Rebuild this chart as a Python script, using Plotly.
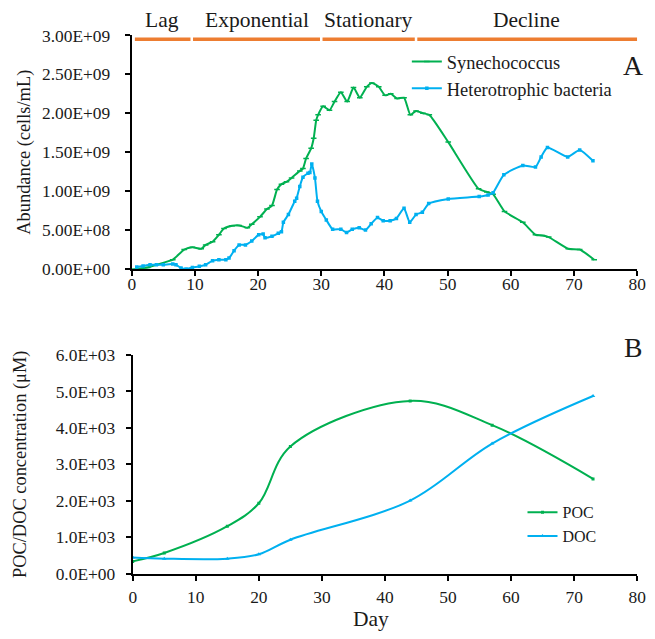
import plotly.graph_objects as go

# ---------------- Data ----------------
# Panel A: abundance (cells/mL)
syn_day = [0.5, 2.5, 3.9, 6.5, 8.3, 9.6, 11, 11.7, 12.8, 13.8, 14.6, 15.9, 17, 18.3, 19,
           20.3, 21.4, 22.2, 23, 23.7, 24.5, 25.3, 26.6, 27.1, 27.6, 28.4, 28.8, 29.2, 29.5,
           30.3, 31.3, 32.1, 33.1, 34.1, 35.1, 36.1, 37.2, 38, 39.1, 40.1, 41, 42, 43.1, 44.1,
           45, 46.1, 47.1, 50.1, 54.9, 56.2, 57.2, 59, 61.9, 63.9, 65, 66, 69.1, 70.9, 73.2]
syn_e9 = [0.0, 0.02, 0.055, 0.12, 0.25, 0.28, 0.26, 0.31, 0.35, 0.44, 0.52, 0.555, 0.56, 0.53,
          0.575, 0.67, 0.77, 0.815, 1.02, 1.09, 1.12, 1.17, 1.26, 1.29, 1.42, 1.55, 1.68, 1.91,
          1.98, 2.09, 2.04, 2.15, 2.27, 2.15, 2.33, 2.20, 2.34, 2.39, 2.34, 2.23, 2.25, 2.19,
          2.20, 1.98, 2.03, 2.00, 1.98, 1.63, 1.03, 0.99, 0.96, 0.74, 0.60, 0.44, 0.43, 0.41,
          0.26, 0.25, 0.12]

het_day = [0.8, 1.8, 2.9, 3.9, 5, 6.5, 7, 7.8, 8.6, 9.6, 10.7, 11.7, 12.8, 13.8, 14.9, 15.4,
           16.2, 17, 18, 19, 20.1, 20.8, 21.1, 22.2, 23.2, 23.7, 24, 24.8, 25.8, 26.1, 26.6,
           27.1, 27.9, 28.2, 28.5, 29, 29.4, 30, 30.8, 31.8, 33.1, 34, 34.9, 36, 37, 37.9, 38.9,
           39.8, 40.9, 41.9, 43.1, 44, 45, 46, 47, 50.1, 55, 56.4, 57.2, 58.9, 61.9, 63.9, 64.8,
           65.8, 69, 70.9, 73]
het_e9 = [0.026, 0.04, 0.055, 0.055, 0.055, 0.064, 0.055, 0.013, 0.0, 0.02, 0.034, 0.055,
          0.107, 0.12, 0.12, 0.14, 0.235, 0.31, 0.31, 0.36, 0.44, 0.45, 0.40, 0.42, 0.46, 0.48,
          0.60, 0.70, 0.87, 0.91, 1.06, 1.18, 1.23, 1.24, 1.35, 1.17, 0.87, 0.74, 0.63, 0.51,
          0.51, 0.47, 0.51, 0.53, 0.50, 0.58, 0.66, 0.62, 0.62, 0.65, 0.78, 0.60, 0.70, 0.73,
          0.84, 0.90, 0.93, 0.95, 0.98, 1.21, 1.33, 1.31, 1.44, 1.56, 1.44, 1.53, 1.39]

syn = [v * 1e9 for v in syn_e9]
het = [v * 1e9 for v in het_e9]

# Growth phases (day boundaries)
phase_names = ["Lag", "Exponential", "Stationary", "Decline"]
phase_bounds = [0, 9.5, 30, 45, 80]

# Panel B: POC / DOC concentration (uM)
carbon_day = [0, 5, 15, 20, 25, 44, 57, 73]
poc = [335, 565, 1300, 1930, 3490, 4740, 4075, 2600]
doc = [440, 410, 410, 530, 930, 2005, 3570, 4875]

# Tick labels
x_ticks = [0, 10, 20, 30, 40, 50, 60, 70, 80]
top_yvals = [0, 0.5e9, 1.0e9, 1.5e9, 2.0e9, 2.5e9, 3.0e9]
top_ylabels = ["0.00E+00", "5.00E+08", "1.00E+09", "1.50E+09", "2.00E+09", "2.50E+09", "3.00E+09"]
bot_yvals = [0, 1000, 2000, 3000, 4000, 5000, 6000]
bot_ylabels = ["0.0E+00", "1.0E+03", "2.0E+03", "3.0E+03", "4.0E+03", "5.0E+03", "6.0E+03"]

# ---------------- Style ----------------
GREEN = "#00B050"
BLUE = "#00B0F0"
ORANGE = "#ED7D31"
FONT = "Liberation Serif"
TXT = "#1a1a1a"
W, H = 655, 639

# page-to-layout placement helpers (pixel targets -> layout pixels)
SX, AX, SY, AY = 0.98, 4.0, 0.972, 7.8
def px(t):
    return (t - AX) / SX
def py(t):
    return (t - AY) / SY
def fs(s):
    return round(s / 0.976, 1)

fig = go.Figure()

fig.add_trace(go.Scatter(
    x=syn_day, y=syn, name="Synechococcus", mode="lines+markers",
    line=dict(color=GREEN, width=2, shape="spline", smoothing=0.5),
    marker=dict(symbol="line-ew", size=4, line=dict(color=GREEN, width=1.5)),
    xaxis="x", yaxis="y", legend="legend"))
fig.add_trace(go.Scatter(
    x=het_day, y=het, name="Heterotrophic bacteria", mode="lines+markers",
    line=dict(color=BLUE, width=2, shape="spline", smoothing=0.5),
    marker=dict(symbol="square", size=3.5, color=BLUE),
    xaxis="x", yaxis="y", legend="legend"))

fig.add_trace(go.Scatter(
    x=carbon_day, y=poc, name="POC", mode="lines+markers",
    line=dict(color=GREEN, width=2, shape="spline", smoothing=1),
    marker=dict(symbol="square", size=3, color=GREEN),
    xaxis="x2", yaxis="y2", legend="legend2"))
fig.add_trace(go.Scatter(
    x=carbon_day, y=doc, name="DOC", mode="lines+markers",
    line=dict(color=BLUE, width=2, shape="spline", smoothing=1),
    marker=dict(symbol="triangle-up", size=4, color=BLUE),
    xaxis="x2", yaxis="y2", legend="legend2"))

# Phase bars and labels
gap = 0.2
for i, name in enumerate(phase_names):
    x0, x1 = phase_bounds[i], phase_bounds[i + 1]
    fig.add_shape(type="line", xref="x", yref="y",
                  x0=x0 + (gap if i > 0 else 0.5), x1=x1 - (gap if i < len(phase_names) - 1 else 0),
                  y0=2.95e9, y1=2.95e9, line=dict(color=ORANGE, width=3.5))
    fig.add_annotation(x=(x0 + x1) / 2, y=1 - py(18) / H, xref="x", yref="paper",
                       text=name, showarrow=False, yanchor="middle",
                       font=dict(family=FONT, size=fs(21), color=TXT))

# Panel letters
fig.add_annotation(x=px(633) / W, y=1 - py(63) / H, xref="paper", yref="paper", text="A",
                   showarrow=False, xanchor="center", yanchor="middle",
                   font=dict(family=FONT, size=fs(27), color=TXT))
fig.add_annotation(x=px(633) / W, y=1 - py(346.5) / H, xref="paper", yref="paper", text="B",
                   showarrow=False, xanchor="center", yanchor="middle",
                   font=dict(family=FONT, size=fs(27), color=TXT))
# X-axis title for panel B
fig.add_annotation(x=px(370.5) / W, y=1 - 629 / H, xref="paper", yref="paper", text="Day",
                   showarrow=False, xanchor="center", yanchor="middle",
                   font=dict(family=FONT, size=fs(21), color=TXT))

axis_common = dict(showgrid=False, zeroline=False, showline=True, linecolor="black",
                   linewidth=2, ticks="outside", ticklen=5, tickwidth=2, tickcolor="black",
                   tickfont=dict(family=FONT, size=fs(17), color=TXT))

RIGHT = 646  # keep the last tick label inside the page

fig.update_layout(
    width=W, height=H,
    margin=dict(l=0, r=0, t=0, b=0),
    paper_bgcolor="white", plot_bgcolor="white",
    font=dict(family=FONT, color=TXT),
    xaxis=dict(domain=[px(131.7) / W, RIGHT / W], range=[0, 80], tickvals=x_ticks,
               anchor="y", **axis_common),
    yaxis=dict(domain=[1 - py(267.7) / H, 1 - py(33.3) / H], range=[0, 3e9],
               tickvals=top_yvals, ticktext=top_ylabels, anchor="x",
               ticklabelstandoff=11,
               title=dict(text="Abundance (cells/mL)", standoff=7,
                          font=dict(family=FONT, size=fs(18), color=TXT)),
               **axis_common),
    xaxis2=dict(domain=[px(132.7) / W, RIGHT / W], range=[0, 80], tickvals=x_ticks,
                anchor="y2", ticklabelstandoff=2, **axis_common),
    yaxis2=dict(domain=[1 - py(573.3) / H, 1 - py(354) / H], range=[0, 6000],
                tickvals=bot_yvals, ticktext=bot_ylabels, anchor="x2",
                ticklabelstandoff=7,
                title=dict(text="POC/DOC concentration (μM)", standoff=24,
                           font=dict(family=FONT, size=fs(18), color=TXT)),
                **axis_common),
    legend=dict(x=411 / W, y=1 - 34 / H, xanchor="left", yanchor="top",
                bgcolor="rgba(0,0,0,0)", itemwidth=30,
                font=dict(family=FONT, size=fs(18), color=TXT)),
    legend2=dict(x=529 / W, y=1 - 501 / H, xanchor="left", yanchor="top",
                 bgcolor="rgba(0,0,0,0)", itemwidth=30,
                 font=dict(family=FONT, size=16, color=TXT)),
)

# pull the upper panel's x tick labels closer to the axis, as in the original
try:
    fig.update_xaxes(ticklabelstandoff=-7, selector=dict(anchor="y"))
except ValueError:
    fig.update_xaxes(ticklabelstandoff=0, selector=dict(anchor="y"))

fig.write_html("out.html")
